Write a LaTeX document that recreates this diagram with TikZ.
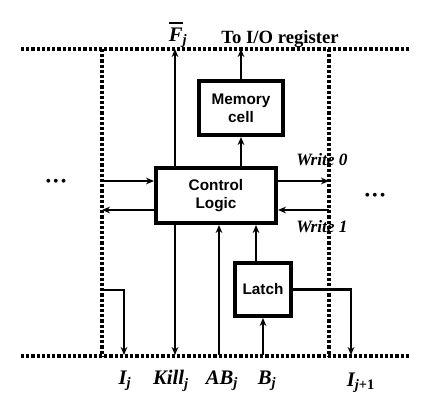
\documentclass[tikz,border=0pt]{standalone}
\usepackage{fontspec}
\setmainfont{Liberation Serif}
\setsansfont{Liberation Sans}
\usetikzlibrary{arrows.meta}
\newcommand{\lab}[2]{{\fontsize{15.5}{18}\selectfont\bfseries\itshape #1\textsubscript{#2}}}
\newcommand{\barF}{{\setbox0\hbox{F}\rlap{\hspace{0.5pt}\raisebox{1.3\ht0}{\rule{0.95\wd0}{1.2pt}}}F}}
\begin{document}
\begin{tikzpicture}[x=0.75pt,y=-0.75pt,
  dots/.style={line width=2.6pt,dash pattern=on 2.4pt off 1.5pt},
  blk/.style={draw,line width=3pt,inner sep=0pt,font=\sffamily\bfseries\fontsize{11.5}{13.5}\selectfont,align=center},
  arr/.style={line width=2pt,-{Stealth[length=6pt,width=5pt]}},
  bul/.style={font=\fontsize{12}{13}\selectfont}]
\useasboundingbox (0,0) rectangle (444,417);
% dotted frame
\draw[dots] (21,49) -- (410,49);
\draw[dots] (21,356) -- (410,356);
\draw[dots] (102,49) -- (102,356);
\draw[dots] (329,49) -- (329,356);
% blocks
\node[blk,minimum width=63pt,minimum height=40.5pt] (mem) at (241,108) {Memory\\cell};
\node[blk,minimum width=90pt,minimum height=41.25pt] (ctrl) at (216,195.5) {Control\\Logic};
\node[blk,minimum width=42pt,minimum height=39.75pt] (latch) at (263,289.5) {Latch};
% coordinates
\coordinate (fTop) at (175,49);
\coordinate (fBot) at (175,355);
\coordinate (lin) at (102,181);
\coordinate (lout) at (102,210);
\coordinate (rout) at (329,181);
\coordinate (rin) at (329,210);
\coordinate (abBot) at (219,355);
\coordinate (lx) at (256,0);
\coordinate (bBot) at (263,355);
\coordinate (ij1) at (351,355);
\coordinate (ijs) at (102,290);
\coordinate (ij) at (124,355);
% connectors
\draw[arr] (ctrl.north -| fTop) -- (fTop);
\draw[arr] (ctrl.south -| fBot) -- (fBot);
\draw[arr] (ctrl.north -| mem.south) -- (mem.south);
\draw[arr] (mem.north) -- (mem.north |- fTop);
\draw[arr] (lin) -- (ctrl.west |- lin);
\draw[arr] (ctrl.west |- lout) -- (lout);
\draw[arr] (ctrl.east |- rout) -- (rout);
\draw[arr] (rin) -- (ctrl.east |- rin);
\draw[arr] (abBot) -- (ctrl.south -| abBot);
\draw[arr] (latch.north -| lx) -- (ctrl.south -| lx);
\draw[arr] (bBot) -- (latch.south);
\draw[arr] (latch.east) -- (latch.east -| ij1) -- (ij1);
\draw[arr] (ijs) -- (ijs -| ij) -- (ij);
% labels
\node (lF) at (178,35) {{\fontsize{15.5}{18}\selectfont\bfseries\itshape\barF\textsubscript{j}}};
\node (lIO) at (280,39) {\fontsize{14}{16}\selectfont\bfseries To I/O register};
\node (lW0) at (322,160) {\fontsize{13}{15}\selectfont\bfseries\itshape Write 0};
\node (lW1) at (322,227) {\fontsize{13}{15}\selectfont\bfseries\itshape Write 1};
\node (lI) at (125,381) {\lab{I}{j}};
\node (lK) at (171,381) {\lab{Kill}{j}};
\node (lAB) at (222,381) {\lab{AB}{j}};
\node (lB) at (267,381) {\lab{B}{j}};
\node (lI1) at (361,383) {\lab{I}{j\upshape +1}};
\node[bul] (dl) at (56,183) {\textbullet\hspace{1.5pt}\textbullet\hspace{1.5pt}\textbullet};
\node[bul] (dr) at (375,197) {\textbullet\hspace{1.5pt}\textbullet\hspace{1.5pt}\textbullet};
\end{tikzpicture}
\end{document}
